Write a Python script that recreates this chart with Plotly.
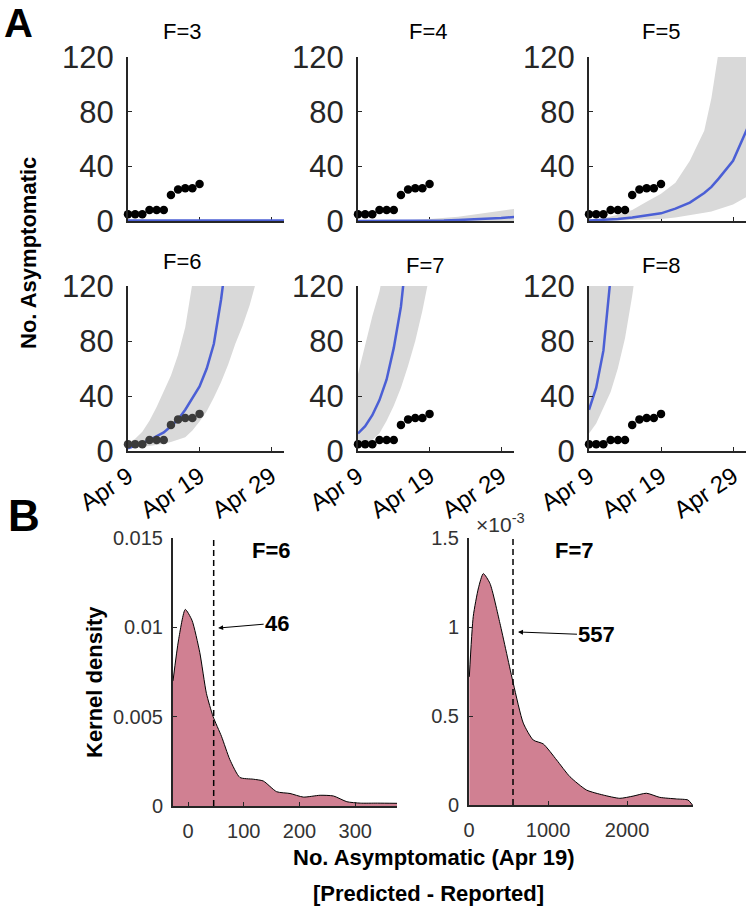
import plotly.graph_objects as go

W, H = 750, 907

# observed asymptomatic counts, Apr 9 .. Apr 19 (day offset from Apr 9)
obs_days = list(range(11))
obs_counts = [5, 5, 5, 8, 8, 8, 19, 23, 24, 24, 27]

day_ticks = [0, 10, 20]
day_labels = ['Apr 9', 'Apr 19', 'Apr 29']
count_ticks = [0, 40, 80, 120]

# model projections per F value: day offsets, median, lower and upper band
f3_days = [0, 4, 8, 12, 16, 20, 22]
f3_median = [0.3, 0.3, 0.3, 0.3, 0.3, 0.3, 0.3]
f3_lower = [0, 0, 0, 0, 0, 0, 0]
f3_upper = [0, 0, 0, 0, 0, 0, 0]

f4_days = [0, 2, 4, 6, 8, 10, 12, 14, 16, 18, 20, 22]
f4_median = [0, 0, 0, 0, 0.1, 0.2, 0.4, 0.7, 1.1, 1.6, 2.2, 3]
f4_lower = [0, 0, 0, 0, 0, 0, 0, 0, 0, 0, 0, 0]
f4_upper = [0, 0.1, 0.3, 0.5, 0.9, 1.4, 2.2, 3.2, 4.5, 6, 7.5, 9]

f5_days = [0, 2, 4, 6, 8, 10, 12, 14, 16, 17, 18, 20, 22]
f5_median = [0.3, 0.8, 1.5, 2.5, 3.8, 5.6, 9, 13.5, 20.5, 25, 31, 44, 68]
f5_lower = [0, 0.2, 0.4, 0.7, 1, 1.5, 2.5, 4, 6, 7, 8.5, 12, 18]
f5_upper = [0.8, 2, 4.5, 8, 14, 20, 28, 44, 66, 90, 124, 160, 200]

f6_days = list(range(19))
f6_median = [2, 3.5, 5.5, 8, 10.5, 13.5, 18, 23, 30, 38, 47, 60, 78, 110, 140,
             180, 230, 290, 360]
f6_lower = [2, 2.5, 3, 3.7, 4.4, 5.3, 6.5, 8, 10, 15, 21.5, 29, 39, 50, 63,
            78, 91, 106, 125]
f6_upper = [5.5, 9, 14, 22, 32, 43, 55, 70, 90, 122, 160, 200, 250, 310, 380,
            460, 550, 650, 760]

f7_days = list(range(11))
f7_median = [12.8, 18, 26, 37, 52, 75, 105, 145, 190, 240, 300]
f7_lower = [3, 5, 8, 13, 22, 33, 46, 62, 80, 102, 128]
f7_upper = [56, 78, 98, 116, 140, 170, 210, 260, 320, 390, 470]

f8_days = list(range(8))
f8_median = [30, 46, 73, 115, 160, 210, 270, 340]
f8_lower = [12.7, 20, 31, 43, 60, 82, 113, 150]
f8_upper = [125, 150, 180, 210, 250, 300, 350, 400]

# kernel density of predicted - reported on Apr 19
kd6_x = [-27, -17, -5, 7, 21, 33, 45, 60, 75, 93, 117, 135, 159, 183, 207,
         237, 261, 285, 309, 340, 375]
kd6_y = [0.0070, 0.0093, 0.0110, 0.0104, 0.0086, 0.0063, 0.0050, 0.0039,
         0.0026, 0.0016, 0.0015, 0.0014, 0.0008, 0.0007, 0.0005, 0.0006,
         0.00056, 0.00024, 0.00016, 0.00016, 0.00015]
kd6_obs = 46

kd7_x = [4, 54, 120, 181, 265, 392, 560, 687, 813, 940, 1109, 1277, 1488,
         1698, 1909, 2077, 2246, 2415, 2626, 2772, 2828]
kd7_y = [0.72, 1.06, 1.22, 1.30, 1.245, 1.02, 0.684, 0.46, 0.365, 0.343,
         0.253, 0.159, 0.084, 0.056, 0.0375, 0.05, 0.066, 0.043, 0.034,
         0.028, 0.0]  # x 1e-3
kd7_obs = 557

panels = [
    ('F=3', f3_days, f3_median, f3_lower, f3_upper),
    ('F=4', f4_days, f4_median, f4_lower, f4_upper),
    ('F=5', f5_days, f5_median, f5_lower, f5_upper),
    ('F=6', f6_days, f6_median, f6_lower, f6_upper),
    ('F=7', f7_days, f7_median, f7_lower, f7_upper),
    ('F=8', f8_days, f8_median, f8_lower, f8_upper),
]

FONT = 'Liberation Sans, Arial, sans-serif'
AX = '#262626'
BLUE = '#4b5fd5'
BAND = '#d9d9d9'
ROSE = '#d08092'


def xd(a, b):
    return [a / W, b / W]


def yd(top, bottom):
    return [1 - bottom / H, 1 - top / H]


# pixel boxes of the axes (left, right, top, bottom)
boxes = [
    (128, 284, 57, 221), (358, 514, 57, 221), (589, 746, 57, 221),
    (128, 284, 286, 451), (358, 514, 286, 451), (589, 746, 286, 451),
    (173, 397, 538, 806), (469, 693, 538, 805),
]
title_pos = [(182, 31), (428, 31), (661, 31), (182, 261), (425, 265), (661, 265)]

fig = go.Figure()

for i, (name, days, med, lo, up) in enumerate(panels):
    n = i + 1
    xa, ya = f'x{n}', f'y{n}'
    fig.add_trace(go.Scatter(
        x=days + days[::-1], y=up + lo[::-1], fill='toself',
        fillcolor=BAND, line=dict(width=0), mode='lines',
        xaxis=xa, yaxis=ya, hoverinfo='skip'))
    fig.add_trace(go.Scatter(
        x=days, y=med, mode='lines', line=dict(color=BLUE, width=2.5),
        xaxis=xa, yaxis=ya))
    fig.add_trace(go.Scatter(
        x=obs_days, y=obs_counts, mode='markers',
        marker=dict(color='#3b3b3b' if name == 'F=6' else 'black', size=8.5),
        xaxis=xa, yaxis=ya, cliponaxis=False))

# panel B
fig.add_trace(go.Scatter(
    x=kd6_x, y=kd6_y, mode='lines', fill='tozeroy', fillcolor=ROSE,
    line=dict(color='black', width=1, shape='spline', smoothing=0.6),
    xaxis='x7', yaxis='y7'))
fig.add_trace(go.Scatter(
    x=[kd6_obs, kd6_obs], y=[0, 0.015], mode='lines',
    line=dict(color='black', width=1.5, dash='6px,4px'),
    xaxis='x7', yaxis='y7'))
fig.add_trace(go.Scatter(
    x=kd7_x, y=kd7_y, mode='lines', fill='tozeroy', fillcolor=ROSE,
    line=dict(color='black', width=1, shape='spline', smoothing=0.6),
    xaxis='x8', yaxis='y8'))
fig.add_trace(go.Scatter(
    x=[kd7_obs, kd7_obs], y=[0, 1.5], mode='lines',
    line=dict(color='black', width=1.5, dash='6px,4px'),
    xaxis='x8', yaxis='y8'))

layout = dict(
    template='none',
    width=W, height=H, showlegend=False,
    margin=dict(l=0, r=0, t=0, b=0, pad=0),
    paper_bgcolor='white', plot_bgcolor='white',
    font=dict(family=FONT, color=AX),
)

axis_common = dict(showline=True, linecolor=AX, linewidth=2, ticks='inside',
                   ticklen=4, tickcolor=AX, tickwidth=1, showgrid=False,
                   zeroline=False, automargin=False)

for i in range(6):
    n = i + 1
    l, r, t, b = boxes[i]
    layout[f'xaxis{n}'] = dict(
        axis_common, domain=xd(l, r), anchor=f'y{n}', range=[0, 21.8],
        tickvals=day_ticks, ticktext=day_labels, tickangle=-34,
        showticklabels=i >= 3, layer='below traces',
        tickfont=dict(size=24, color='black'))
    layout[f'yaxis{n}'] = dict(
        axis_common, domain=yd(t, b), anchor=f'x{n}', range=[0, 120],
        tickvals=count_ticks, tickfont=dict(size=31, color=AX),
        ticklabelstandoff=6)

l, r, t, b = boxes[6]
layout['xaxis7'] = dict(axis_common, domain=xd(l, r), anchor='y7',
                        range=[-27, 375], tickvals=[0, 100, 200, 300],
                        tickfont=dict(size=20, color='#333'), ticklabelstandoff=6)
layout['yaxis7'] = dict(axis_common, domain=yd(t, b), anchor='x7',
                        range=[0, 0.015], tickvals=[0, 0.005, 0.01, 0.015],
                        ticktext=['0', '0.005', '0.01', '0.015'],
                        tickfont=dict(size=20, color='#333'), ticklabelstandoff=4)
l, r, t, b = boxes[7]
layout['xaxis8'] = dict(axis_common, domain=xd(l, r), anchor='y8',
                        range=[0, 2835], tickvals=[0, 1000, 2000],
                        tickfont=dict(size=20, color='#333'), ticklabelstandoff=6)
layout['yaxis8'] = dict(axis_common, domain=yd(t, b), anchor='x8',
                        range=[0, 1.5], tickvals=[0, 0.5, 1, 1.5],
                        ticktext=['0', '0.5', '1', '1.5'],
                        tickfont=dict(size=20, color='#333'), ticklabelstandoff=4)

fig.update_layout(**layout)


def txt(text, px, py, size, bold=False, angle=0, color='black'):
    fig.add_annotation(
        text=f'<b>{text}</b>' if bold else text, x=px / W, y=1 - py / H,
        xref='paper', yref='paper', showarrow=False, textangle=angle,
        font=dict(size=size, color=color, family=FONT),
        xanchor='center', yanchor='middle')


txt('A', 18, 23, 40, bold=True)
txt('B', 24, 515, 44, bold=True)
for (name, *_), (px, py) in zip(panels, title_pos):
    txt(name, px, py, 22)
txt('No. Asymptomatic', 28, 253, 22, bold=True, angle=-90)
txt('Kernel density', 94, 682, 22, bold=True, angle=-90)
txt('F=6', 271, 550, 22, bold=True)
txt('F=7', 574, 550, 22, bold=True)
txt('No. Asymptomatic (Apr 19)', 434, 857, 22, bold=True)
txt('[Predicted - Reported]', 428, 893, 22, bold=True)
txt('\u00d710<sup>-3</sup>', 500, 523, 21, color='#333')

fig.add_annotation(x=54, y=0.00996, xref='x7', yref='y7', ax=59, ay=-5,
                   text='<b>46</b>', showarrow=True, arrowhead=2, arrowsize=1,
                   arrowwidth=1, arrowcolor='black',
                   font=dict(size=22, color='black', family=FONT))
fig.add_annotation(x=620, y=0.972, xref='x8', yref='y8', ax=79, ay=3,
                   text='<b>557</b>', showarrow=True, arrowhead=2, arrowsize=1,
                   arrowwidth=1, arrowcolor='black',
                   font=dict(size=22, color='black', family=FONT))

# drop the default page margin so the figure sits at the window's corner
fig.write_html('out.html', config={'displayModeBar': False},
               post_script="document.body.style.margin='0';")
